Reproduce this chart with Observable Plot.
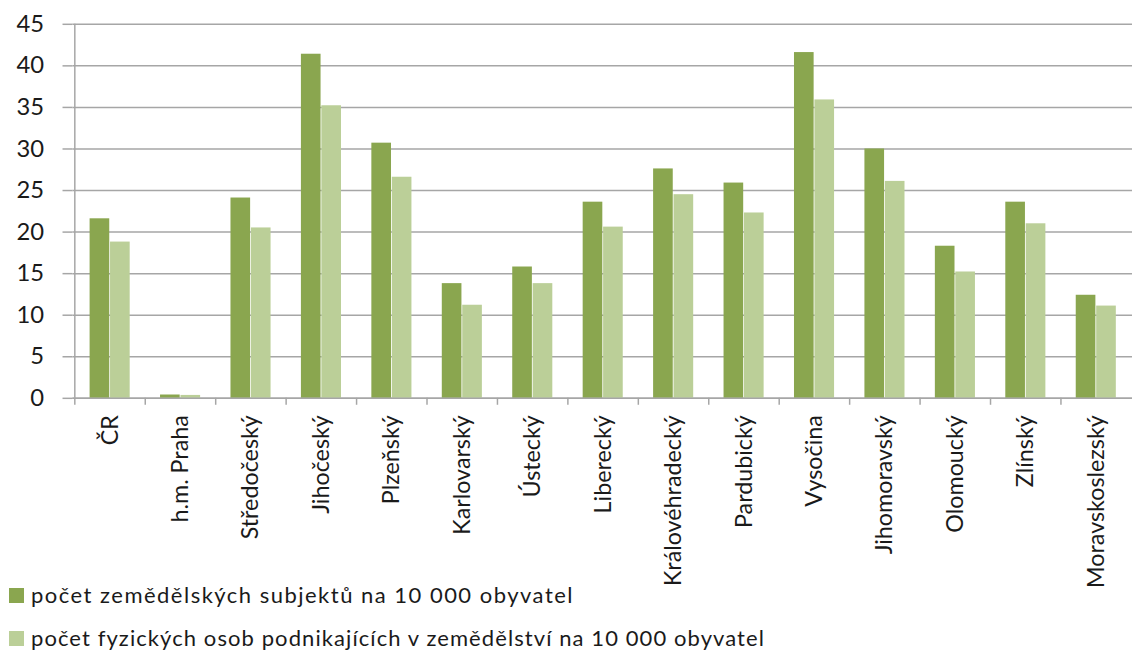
<!DOCTYPE html>
<html><head><meta charset="utf-8">
<script src="https://cdn.jsdelivr.net/npm/d3@7"></script>
<script src="https://cdn.jsdelivr.net/npm/@observablehq/plot@0.6"></script>
<style>
html,body{margin:0;padding:0;overflow:hidden;background:#fff;width:1132px;height:652px;position:relative}
#chart{position:absolute;left:0;top:0}
.leg{position:absolute;left:9px;font-family:Lato,sans-serif;font-size:22px;color:#1a1a1a;white-space:nowrap;display:flex;align-items:center;line-height:1}
.sw{display:inline-block;width:15px;height:15px;margin-right:7px}
</style></head><body>
<div id="chart"></div>
<div id="legend"></div>
<script>
const regions = ["ČR","h.m. Praha","Středočeský","Jihočeský","Plzeňský","Karlovarský","Ústecký","Liberecký","Královéhradecký","Pardubický","Vysočina","Jihomoravský","Olomoucký","Zlínský","Moravskoslezský"];
const subjekty = [21.6,0.4,24.1,41.4,30.7,13.8,15.8,23.6,27.6,25.9,41.6,30.0,18.3,23.6,12.4];
const osoby = [18.8,0.35,20.5,35.2,26.6,11.2,13.8,20.6,24.5,22.3,35.9,26.1,15.2,21.0,11.1];
const yTicks = [0,5,10,15,20,25,30,35,40,45];
const seriesNames = ["počet zemědělských subjektů na 10 000 obyvatel","počet fyzických osob podnikajících v zemědělství na 10 000 obyvatel"];
const seriesColors = ["#8aa64f","#bbcf98"];

const d1 = regions.map((r,i)=>({region:r, value:subjekty[i]}));
const d2 = regions.map((r,i)=>({region:r, value:osoby[i]}));

const W = 1141, ML = 73, H = 652, MT = 24, MB = 251;
const step = (W - ML) / regions.length;
const grid = "#a6a6a6";

const chart = Plot.plot({
  width: W, height: H,
  marginLeft: ML, marginRight: 0, marginTop: MT, marginBottom: MB,
  style: {fontFamily: "Lato, sans-serif", background: "white", overflow: "visible", color: "#1a1a1a"},
  x: {domain: regions, padding: 0, label: null},
  y: {domain: [0, 45], label: null},
  marks: [
    Plot.gridY(yTicks, {stroke: grid, strokeOpacity: 1, strokeWidth: 1.5}),
    Plot.barY(d1, {x: "region", y: "value", fill: seriesColors[0], insetLeft: 15.3, insetRight: 35.9}),
    Plot.barY(d2, {x: "region", y: "value", fill: seriesColors[1], insetLeft: 35.9, insetRight: 15.3}),
    Plot.ruleY([0], {stroke: grid, strokeWidth: 1.5}),
    Plot.ruleX(regions.slice(0,1), {x: d => d, dx: -step/2, stroke: grid, strokeWidth: 1.5}),
    Plot.axisY(yTicks, {tickSize: 10, tickPadding: 19, fontSize: 24, stroke: grid, strokeWidth: 1.5, fill: "#1a1a1a", label: null}),
    Plot.axisX({tickSize: 0, tickRotate: -90, tickPadding: 17, fontSize: 23.5, fill: "#1a1a1a", label: null}),
    Plot.axisX({tickSize: 7, tickFormat: () => "", dx: -step/2, stroke: grid, strokeWidth: 1.5, label: null})
  ]
});
document.getElementById("chart").appendChild(chart);

const legend = document.getElementById("legend");
const tops = [584, 627];
const targets = [543, 734];
seriesNames.forEach((name, i) => {
  const div = document.createElement("div");
  div.className = "leg";
  div.style.top = tops[i] + "px";
  const sw = document.createElement("span");
  sw.className = "sw";
  sw.style.background = seriesColors[i];
  const t = document.createElement("span");
  t.textContent = name;
  div.appendChild(sw); div.appendChild(t);
  legend.appendChild(div);
  const w = t.getBoundingClientRect().width;
  t.style.letterSpacing = ((targets[i] - w) / name.length) + "px";
});
</script>
</body></html>
